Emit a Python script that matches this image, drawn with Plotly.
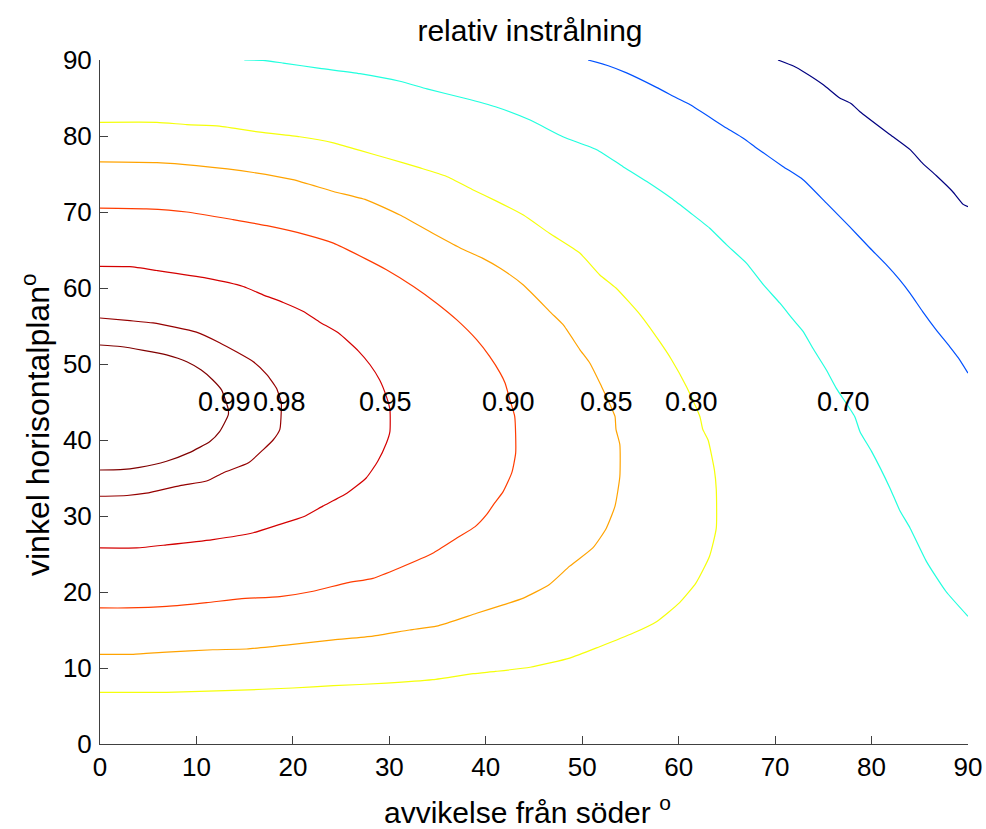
import numpy as np
import plotly.graph_objects as go

# ---- data (x = avvikelse från söder, y = vinkel horisontalplan) ----
levels = ["0.99", "0.98", "0.95", "0.90", "0.85", "0.80", "0.70", "0.60", "0.50"]
labelled_levels = ["0.99", "0.98", "0.95", "0.90", "0.85", "0.80", "0.70"]
label_row_y = 45

c099_x = [0, 2.1, 4.5, 6.9, 9.0, 10.5, 11.7, 12.6, 13.1, 13.3, 13.3, 12.4, 11.4, 9.2, 6.9, 4.1, 2.1, 0]
c099_y = [52.5, 52.3, 51.8, 51.2, 50.3, 49.2, 47.9, 46.6, 44.9, 44.0, 43.3, 41.1, 39.8, 38.3, 37.2, 36.4, 36.1, 36.05]

c098_x = [0, 3.1, 5.5, 10.0, 12.4, 15.9, 17.3, 18.3, 18.8, 18.8, 18.65, 17.95, 16.9, 15.4, 12.8, 11.05, 8.3, 4.8, 2.8, 0]
c098_y = [56.05, 55.7, 55.4, 54.2, 52.8, 50.3, 48.6, 46.8, 44.9, 44.0, 41.4, 40.0, 38.7, 37.0, 35.7, 34.6, 34.0, 33.0, 32.7, 32.6]

c095_x = [0, 3.1, 5.9, 11.05, 14.85, 16.9, 19.0, 21.1, 22.8, 24.7, 26.8, 28.0, 29.0, 29.7, 30.06, 30.06,
          29.7, 28.8, 27.6, 25.6, 23.1, 21.1, 18.65, 15.9, 11.7, 6.9, 3.8, 0]
c095_y = [62.85, 62.8, 62.3, 61.3, 60.2, 59.1, 58.1, 56.9, 55.5, 54.1, 51.7, 49.9, 47.9, 45.7, 44.0, 41.1,
          39.6, 37.2, 35.0, 33.0, 31.3, 29.9, 28.9, 27.8, 26.9, 26.2, 25.8, 25.8]

c090_x = [0, 4.8, 9.0, 13.8, 17.3, 21.4, 24.2, 27.6, 29.7, 32.5, 34.9, 37.0, 39.05, 40.4, 41.5, 42.0, 42.5,
          43.0, 43.1, 42.7, 41.8, 40.8, 40.1, 38.9, 37.0, 34.5, 31.1, 28.3, 25.6, 22.1, 18.65, 14.5, 11.05,
          6.9, 2.8, 0]
c090_y = [70.5, 70.4, 70.0, 69.0, 68.2, 67.0, 65.9, 63.8, 62.4, 60.2, 58.0, 55.8, 53.2, 51.0, 48.8, 47.5, 45.3,
          43.1, 38.3, 35.7, 33.2, 31.5, 30.2, 28.6, 27.1, 25.1, 23.2, 21.8, 21.2, 20.1, 19.4, 19.1, 18.6,
          18.1, 17.9, 17.9]

c085_x = [0, 5.9, 10.0, 15.9, 20.0, 24.2, 27.6, 31.1, 34.5, 37.3, 39.7, 41.5, 43.9, 46.8, 48.0, 49.75, 50.8,
          52.0, 52.9, 53.4, 53.5, 53.9, 53.9, 53.4, 52.5, 51.1, 48.7, 46.6, 43.9, 41.8, 39.05, 34.9, 32.1,
          28.3, 24.2, 20.0, 15.2, 11.7, 6.9, 3.45, 0]
c085_y = [76.6, 76.5, 76.1, 75.2, 74.25, 72.7, 71.6, 69.6, 67.2, 65.3, 63.9, 62.6, 60.4, 56.7, 55.2, 51.9, 50.1,
          47.05, 44.6, 43.1, 41.4, 39.4, 35.2, 31.3, 28.4, 25.8, 23.4, 21.0, 19.2, 18.3, 17.2, 15.5, 15.0,
          14.2, 13.7, 13.1, 12.5, 12.4, 12.1, 11.8, 11.8]

c080_x = [0, 5.9, 9.0, 12.4, 16.6, 20.7, 24.2, 26.95, 29.7, 33.2, 35.9, 38.7, 41.0, 43.9, 46.6, 49.75, 51.8,
          53.5, 56.0, 58.0, 59.25, 60.8, 62.2, 62.5, 63.05, 63.7, 63.9, 63.9, 63.2, 61.8, 60.1, 57.7, 55.3,
          51.8, 48.7, 44.6, 41.0, 38.7, 34.5, 29.7, 24.2, 20.0, 13.8, 6.9, 0]
c080_y = [81.8, 81.8, 81.5, 81.3, 80.5, 79.9, 79.1, 78.1, 77.1, 75.8, 74.7, 72.9, 71.5, 69.6, 67.2, 64.6, 61.75,
          60.0, 56.5, 53.0, 50.6, 47.05, 43.1, 41.4, 40.0, 36.1, 33.5, 28.4, 24.7, 21.2, 18.6, 16.1, 14.6,
          12.8, 11.3, 10.1, 9.55, 9.25, 8.46, 8.0, 7.67, 7.37, 7.05, 6.8, 6.8]

c070_x = [14.96, 16.9, 19.0, 22.8, 26.95, 31.1, 33.9, 37.7, 41.0, 44.6, 48.0, 51.5, 54.2, 56.7, 59.25, 61.2,
          63.2, 64.95, 67.0, 68.8, 70.5, 71.9, 72.9, 73.9, 75.3, 76.35, 78.25, 78.8, 80.0, 81.9, 82.9, 84.0,
          85.7, 87.7, 90.0]
c070_y = [90.0, 89.95, 89.6, 88.9, 88.2, 87.2, 86.2, 85.0, 83.85, 82.1, 79.9, 78.2, 76.0, 74.0, 71.8, 69.9,
          67.9, 65.7, 63.3, 60.4, 58.0, 55.8, 54.3, 52.1, 49.25, 46.8, 43.1, 41.1, 38.5, 33.7, 30.8, 28.4,
          24.0, 20.1, 16.8]

c060_x = [50.6, 52.7, 54.6, 57.7, 59.8, 61.2, 64.95, 66.7, 68.1, 70.8, 72.9, 75.3, 77.7, 79.8, 81.5, 82.9,
          84.0, 85.3, 86.7, 88.1, 89.0, 90.0]
c060_y = [90.0, 89.25, 88.3, 86.4, 85.0, 84.1, 81.05, 79.7, 78.4, 76.0, 74.25, 71.2, 68.1, 65.3, 63.1, 61.1,
          59.3, 56.9, 54.5, 52.3, 50.8, 48.8]

c050_x = [70.3, 71.9, 72.9, 75.0, 76.7, 77.9, 78.8, 81.9, 84.0, 85.3, 86.7, 88.4, 89.5, 90.0]
c050_y = [90.0, 89.2, 88.5, 86.75, 85.0, 84.25, 83.2, 80.2, 78.2, 76.4, 74.8, 72.7, 71.0, 70.7]

x_ticks = [0, 10, 20, 30, 40, 50, 60, 70, 80, 90]
y_ticks = [0, 10, 20, 30, 40, 50, 60, 70, 80, 90]

# ---- styles ----
contours = {
    "0.99": (c099_x, c099_y),
    "0.98": (c098_x, c098_y),
    "0.95": (c095_x, c095_y),
    "0.90": (c090_x, c090_y),
    "0.85": (c085_x, c085_y),
    "0.80": (c080_x, c080_y),
    "0.70": (c070_x, c070_y),
    "0.60": (c060_x, c060_y),
    "0.50": (c050_x, c050_y),
}
colors = {
    "0.99": "#800000",
    "0.98": "#950000",
    "0.95": "#D40000",
    "0.90": "#FF3C00",
    "0.85": "#FFA300",
    "0.80": "#F5FF0A",
    "0.70": "#21FFDE",
    "0.60": "#0051FF",
    "0.50": "#000080",
}
FONT = "Liberation Sans, Arial, sans-serif"

# plot area in pixels: x 100..968, y 60..744
PL, PR, PT, PB = 100, 968, 60, 744
W, H = 986, 829


def fx(px):
    return (px - PL) / (PR - PL)


def fy(py):
    return (PB - py) / (PB - PT)


fig = go.Figure()
for lev in levels:
    xs, ys = contours[lev]
    fig.add_trace(go.Scatter(x=xs, y=ys, mode="lines",
                             line=dict(color=colors[lev], width=1.2, shape="spline", smoothing=0.5),
                             hoverinfo="skip", showlegend=False))

annotations = []
for lev in labelled_levels:
    xs, ys = contours[lev]
    xs = np.asarray(xs, float)
    ys = np.asarray(ys, float)
    xc = None
    for i in range(len(ys) - 1):
        y0, y1 = ys[i], ys[i + 1]
        if (y0 - label_row_y) * (y1 - label_row_y) <= 0 and y0 != y1:
            t = (label_row_y - y0) / (y1 - y0)
            xc = xs[i] + t * (xs[i + 1] - xs[i])
            break
    annotations.append(dict(x=xc - 0.2, y=label_row_y, xref="x", yref="y", text=lev,
                            showarrow=False, xanchor="center", yanchor="middle",
                            font=dict(family=FONT, size=27, color="black")))

annotations.append(dict(x=fx(527), y=fy(810), xref="paper", yref="paper",
                        text="avvikelse från söder <sup>o</sup>", showarrow=False,
                        xanchor="center", yanchor="middle",
                        font=dict(family=FONT, size=30, color="black")))
annotations.append(dict(x=fx(36), y=fy(425), xref="paper", yref="paper",
                        text="vinkel horisontalplan<sup>o</sup>", showarrow=False, textangle=-90,
                        xanchor="center", yanchor="middle",
                        font=dict(family=FONT, size=32, color="black")))

fig.update_layout(
    width=W, height=H,
    margin=dict(l=PL, r=W - PR, t=PT, b=H - PB, autoexpand=False),
    paper_bgcolor="white", plot_bgcolor="white",
    title=dict(text="relativ instrålning", x=530 / W, xref="container", xanchor="center",
               y=1 - 30 / H, yref="container", yanchor="middle",
               font=dict(family=FONT, size=30, color="black")),
    annotations=annotations,
    xaxis=dict(range=[0, 90], tickvals=x_ticks, ticktext=[str(v) for v in x_ticks],
               showgrid=False, zeroline=False, showline=True, linecolor="#404040", linewidth=1,
               ticks="inside", ticklen=8, tickcolor="#404040", mirror=False,
               tickfont=dict(family=FONT, size=26, color="black"), ticklabelstandoff=0),
    yaxis=dict(range=[0, 90], tickvals=y_ticks, ticktext=[str(v) for v in y_ticks],
               showgrid=False, zeroline=False, showline=True, linecolor="#404040", linewidth=1,
               ticks="inside", ticklen=8, tickcolor="#404040", mirror=False,
               tickfont=dict(family=FONT, size=26, color="black"), ticklabelstandoff=2),
)

fig.write_html("out.html", config={"displayModeBar": False},
               post_script="document.body.style.margin='0';")
